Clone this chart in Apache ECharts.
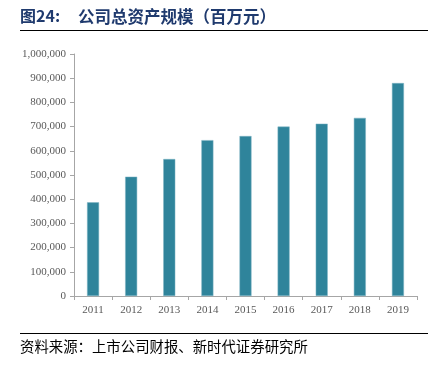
<!DOCTYPE html>
<html>
<head>
<meta charset="utf-8">
<script src="https://cdn.jsdelivr.net/npm/echarts@6/dist/echarts.min.js"></script>
<style>
html,body{margin:0;padding:0;background:#fff;}
#chart{width:433px;height:366px;}
</style>
</head>
<body>
<div id="chart"></div>
<script>
// 年份
var years = ['2011','2012','2013','2014','2015','2016','2017','2018','2019'];
// 总资产（百万元）
var assets = [387000, 493000, 566000, 644000, 661000, 700000, 712000, 736000, 880000];
var yTicks = [0, 100000, 200000, 300000, 400000, 500000, 600000, 700000, 800000, 900000, 1000000];

var myChart = echarts.init(document.getElementById('chart'));
var option = {
	animation: false,
	backgroundColor: '#fff',
	grid: {left: 74, right: 16, top: 54, bottom: 70},
	xAxis: {
		type: 'category',
		data: years,
		axisLine: {lineStyle: {color: '#a6a6a6', width: 1}},
		axisTick: {show: true, length: 4, lineStyle: {color: '#a6a6a6'}},
		axisLabel: {color: '#595959', fontFamily: 'Liberation Serif', fontSize: 11, margin: 9}
	},
	yAxis: {
		type: 'value',
		min: yTicks[0],
		max: yTicks[yTicks.length - 1],
		interval: 100000,
		axisLine: {show: true, lineStyle: {color: '#a6a6a6', width: 1}},
		axisTick: {show: true, length: 4, lineStyle: {color: '#a6a6a6'}},
		splitLine: {show: false},
		axisLabel: {
			color: '#595959', fontFamily: 'Liberation Serif', fontSize: 11, margin: 8,
			formatter: function (v) { return v.toLocaleString('en-US'); }
		}
	},
	series: [{
		type: 'bar',
		data: assets,
		barWidth: 12,
		itemStyle: {color: '#2f849b', borderColor: '#7fb5c4', borderWidth: 0.5}
	}],
	graphic: [
		{type: 'text', left: 20, top: 8, style: {text: '图24:', fill: '#1f3a6e', font: 'bold 16px "Noto Sans CJK SC"'}},
		{type: 'text', left: 78, top: 8, style: {text: '公司总资产规模（百万元）', fill: '#1f3a6e', font: 'bold 16.5px "Noto Sans CJK SC"'}},
		{type: 'line', shape: {x1: 20, y1: 30.5, x2: 428, y2: 30.5}, style: {stroke: '#000', lineWidth: 1}},
		{type: 'line', shape: {x1: 20, y1: 333.5, x2: 428, y2: 333.5}, style: {stroke: '#000', lineWidth: 1}},
		{type: 'text', left: 20, top: 339, style: {text: '资料来源：上市公司财报、新时代证券研究所', fill: '#000', font: '14.4px "Noto Sans CJK SC"'}}
	]
};
myChart.setOption(option);
</script>
</body>
</html>
